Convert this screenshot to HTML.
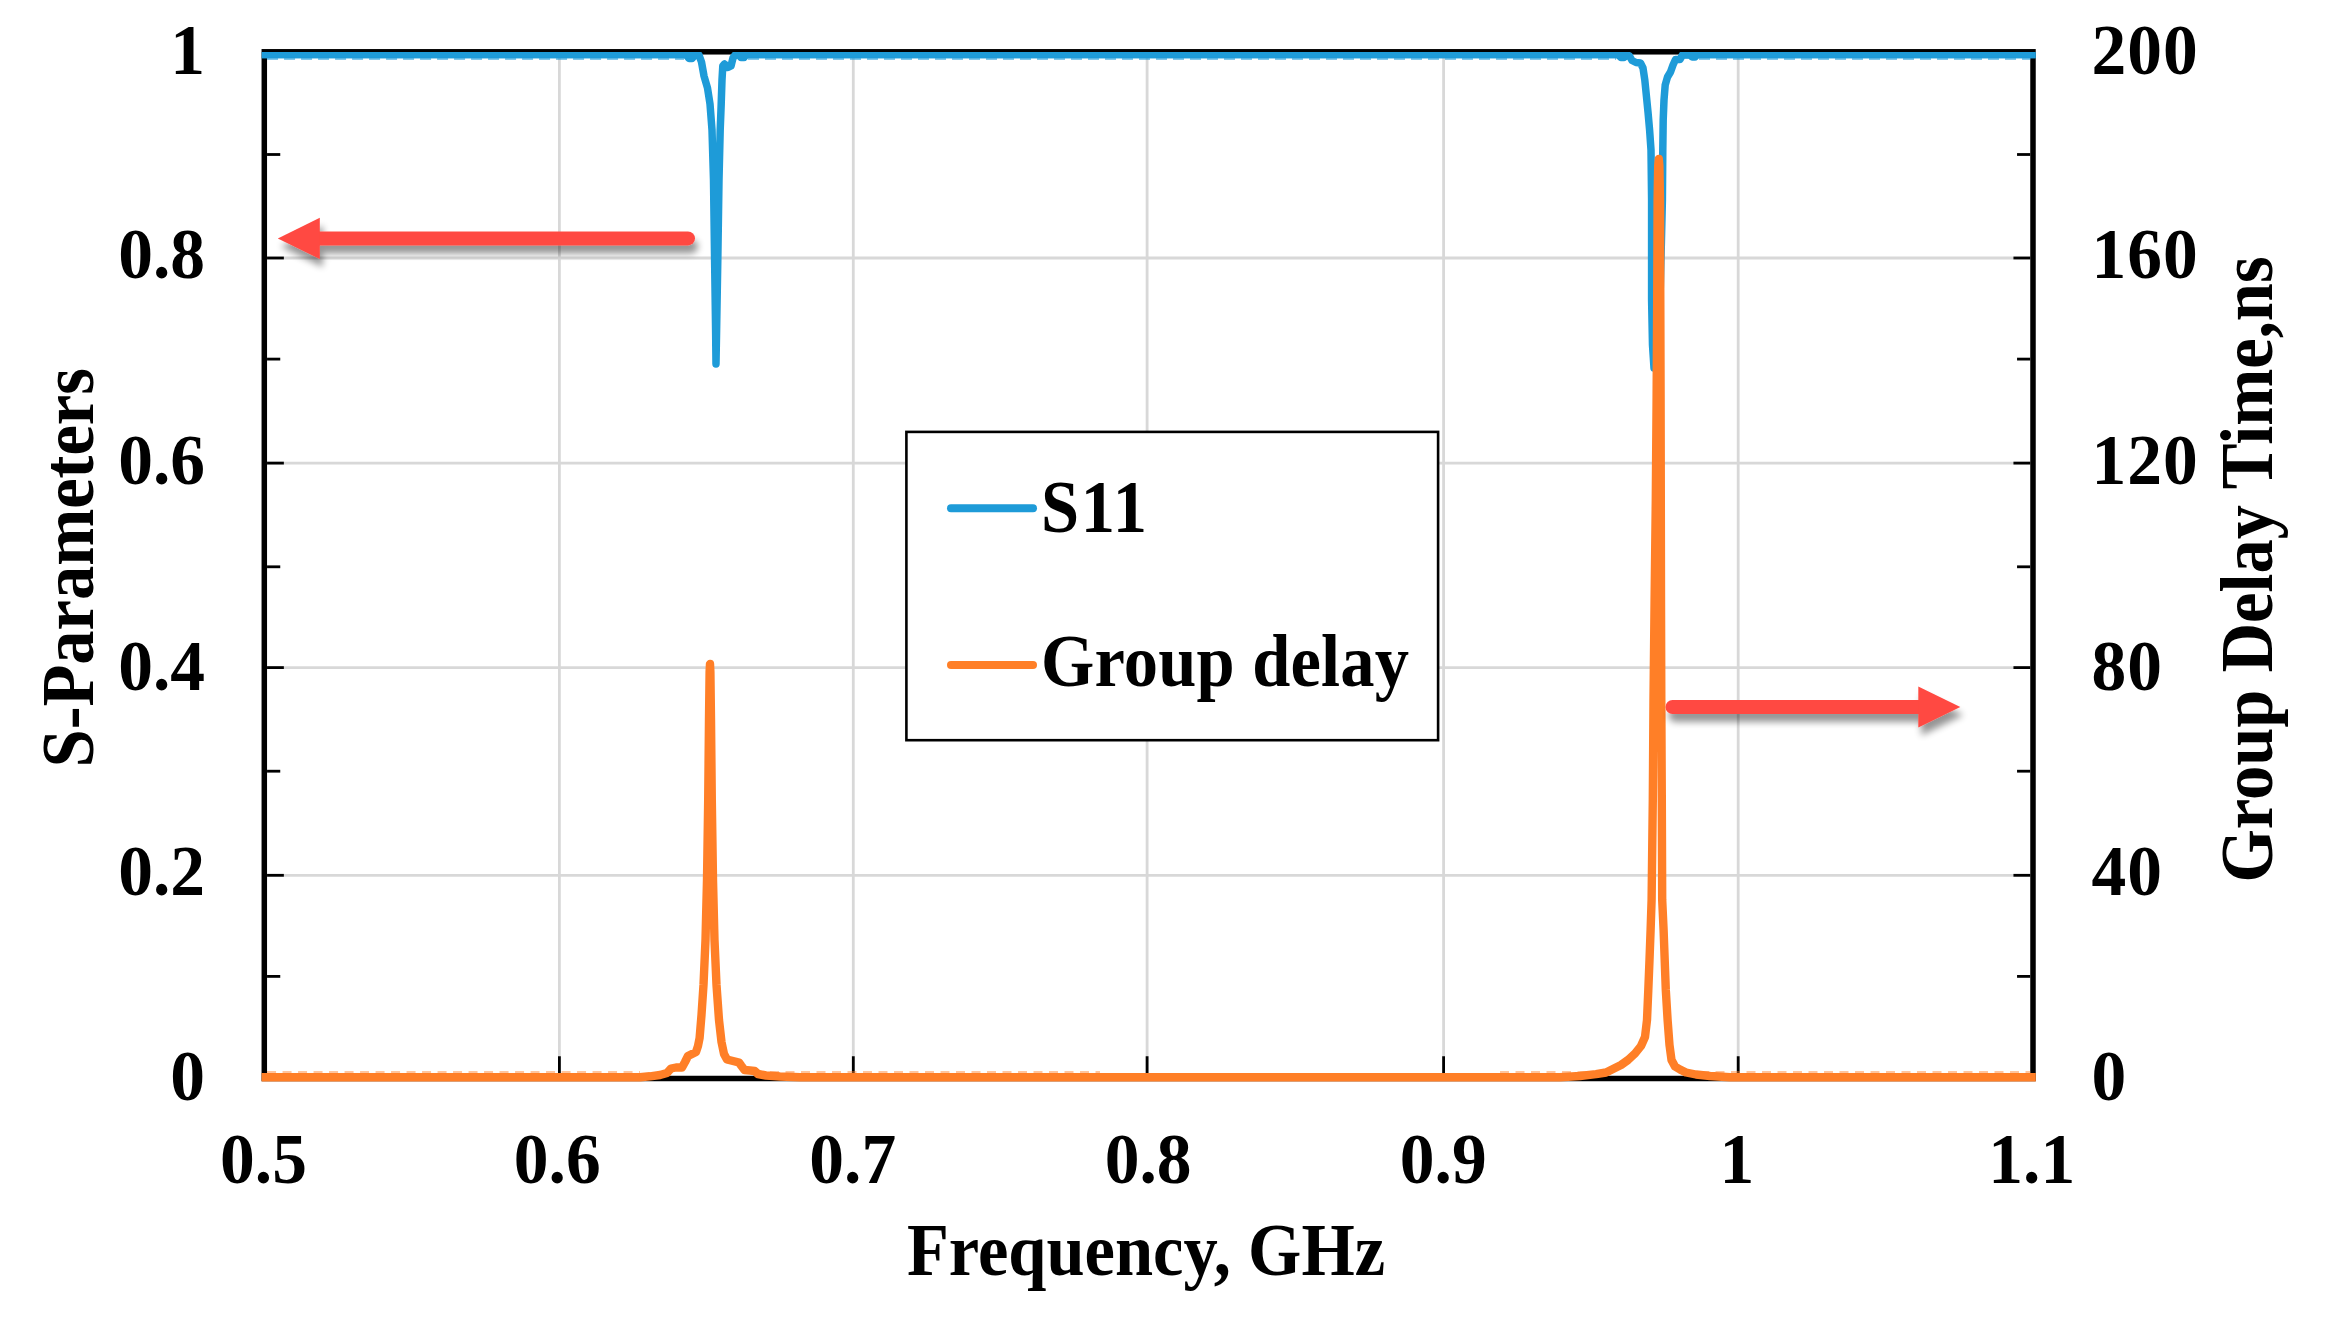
<!DOCTYPE html>
<html lang="en"><head><meta charset="utf-8"><title>S11 and group delay</title>
<style>
html,body{margin:0;padding:0;background:#fff;}
body{width:2325px;height:1325px;overflow:hidden;}
svg{display:block;filter:blur(0.55px);}
text{font-family:"Liberation Serif","Times New Roman",serif;font-weight:bold;fill:#000;}
.t{font-size:69.5px;}
.l{font-size:68.5px;}
</style></head><body>
<svg width="2325" height="1325" viewBox="0 0 2325 1325">
<defs>
<filter id="sh" x="-10%" y="-80%" width="120%" height="300%">
<feGaussianBlur in="SourceAlpha" stdDeviation="3.6"/>
<feOffset dx="3" dy="8" result="o"/>
<feComponentTransfer><feFuncA type="linear" slope="0.42"/></feComponentTransfer>
<feMerge><feMergeNode/><feMergeNode in="SourceGraphic"/></feMerge>
</filter>
<clipPath id="cb"><rect x="261.55" y="52" width="1774.2" height="1100"/></clipPath>
</defs>
<rect width="2325" height="1325" fill="#fff"/>

<g stroke="#d8d8d8" stroke-width="2.8" fill="none">
<line x1="559.4" y1="51.8" x2="559.4" y2="1078.5"/>
<line x1="853.3" y1="51.8" x2="853.3" y2="1078.5"/>
<line x1="1147.1" y1="51.8" x2="1147.1" y2="1078.5"/>
<line x1="1443.6" y1="51.8" x2="1443.6" y2="1078.5"/>
<line x1="1738.2" y1="51.8" x2="1738.2" y2="1078.5"/>
<line x1="264.3" y1="875.3" x2="2033.0" y2="875.3"/>
<line x1="264.3" y1="667.6" x2="2033.0" y2="667.6"/>
<line x1="264.3" y1="463.1" x2="2033.0" y2="463.1"/>
<line x1="264.3" y1="258.0" x2="2033.0" y2="258.0"/>
</g>
<rect x="264.3" y="51.8" width="1768.7" height="1026.7" fill="none" stroke="#000" stroke-width="5.5"/>
<g stroke="#000" stroke-width="2.8">
<line x1="267.05" y1="1078.5" x2="283.85" y2="1078.5"/>
<line x1="2030.25" y1="1078.5" x2="2013.45" y2="1078.5"/>
<line x1="267.05" y1="976.4" x2="280.25" y2="976.4"/>
<line x1="2030.25" y1="976.4" x2="2017.05" y2="976.4"/>
<line x1="267.05" y1="875.3" x2="283.85" y2="875.3"/>
<line x1="2030.25" y1="875.3" x2="2013.45" y2="875.3"/>
<line x1="267.05" y1="771.2" x2="280.25" y2="771.2"/>
<line x1="2030.25" y1="771.2" x2="2017.05" y2="771.2"/>
<line x1="267.05" y1="667.6" x2="283.85" y2="667.6"/>
<line x1="2030.25" y1="667.6" x2="2013.45" y2="667.6"/>
<line x1="267.05" y1="566.8" x2="280.25" y2="566.8"/>
<line x1="2030.25" y1="566.8" x2="2017.05" y2="566.8"/>
<line x1="267.05" y1="463.1" x2="283.85" y2="463.1"/>
<line x1="2030.25" y1="463.1" x2="2013.45" y2="463.1"/>
<line x1="267.05" y1="359.1" x2="280.25" y2="359.1"/>
<line x1="2030.25" y1="359.1" x2="2017.05" y2="359.1"/>
<line x1="267.05" y1="258.0" x2="283.85" y2="258.0"/>
<line x1="2030.25" y1="258.0" x2="2013.45" y2="258.0"/>
<line x1="267.05" y1="154.5" x2="280.25" y2="154.5"/>
<line x1="2030.25" y1="154.5" x2="2017.05" y2="154.5"/>
<line x1="267.05" y1="51.8" x2="283.85" y2="51.8"/>
<line x1="2030.25" y1="51.8" x2="2013.45" y2="51.8"/>
<line x1="264.3" y1="1075.75" x2="264.3" y2="1056.25"/>
<line x1="559.4" y1="1075.75" x2="559.4" y2="1056.25"/>
<line x1="853.3" y1="1075.75" x2="853.3" y2="1056.25"/>
<line x1="1147.1" y1="1075.75" x2="1147.1" y2="1056.25"/>
<line x1="1443.6" y1="1075.75" x2="1443.6" y2="1056.25"/>
<line x1="1738.2" y1="1075.75" x2="1738.2" y2="1056.25"/>
<line x1="2033.0" y1="1075.75" x2="2033.0" y2="1056.25"/>
</g>
<g clip-path="url(#cb)"><path d="M261.6 54.6 L686.0 54.6 L689.0 58.5 L692.0 58.5 L695.0 55.1 L699.0 55.1 L701.5 62.0 L704.0 76.0 L707.5 88.0 L710.0 104.0 L712.0 130.0 L713.5 180.0 L714.6 260.0 L715.6 330.0 L716.0 364.0 L716.6 330.0 L717.8 260.0 L719.0 180.0 L720.2 130.0 L721.2 104.0 L722.0 80.0 L722.8 66.0 L724.5 64.0 L728.0 67.5 L731.0 66.0 L733.0 58.0 L735.0 55.1 L739.0 55.1 L741.0 57.5 L744.0 57.5 L746.0 54.6 L1618.0 54.6 L1621.0 57.5 L1624.0 57.5 L1627.0 54.9 L1629.5 56.0 L1632.0 60.5 L1636.0 62.5 L1640.5 63.0 L1643.0 68.0 L1644.8 80.0 L1646.3 95.0 L1648.0 112.0 L1649.6 130.0 L1651.0 150.0 L1651.6 200.0 L1651.6 300.0 L1652.5 345.0 L1654.0 368.0 L1657.0 345.0 L1660.0 300.0 L1662.4 200.0 L1662.8 150.0 L1663.2 120.0 L1664.0 100.0 L1665.2 85.0 L1667.5 77.0 L1670.5 72.0 L1673.0 65.0 L1675.5 59.5 L1680.0 59.5 L1682.5 54.9 L1690.0 54.9 L1692.0 57.0 L1695.0 57.0 L1697.0 54.6 L2035.8 54.6" fill="none" stroke="#1e9bd8" stroke-width="7.5" stroke-linejoin="round" stroke-linecap="butt"/>
<path d="M261.55 54.6 H700 M734 54.6 H1628 M1681 54.6 H2035.75" fill="none" stroke="#1e9bd8" stroke-width="7.5"/>
<path d="M267.05 58.9 H684 M748 58.9 H1616 M1699 58.9 H2030.25" fill="none" stroke="#1e9bd8" stroke-opacity="0.55" stroke-width="2.4" stroke-dasharray="11 6"/></g>
<path d="M261.6 1077.3 L640.0 1077.3 L650.0 1076.3 L660.0 1075.0 L667.0 1073.0 L671.0 1068.5 L676.0 1067.5 L682.0 1067.5 L685.0 1062.0 L688.0 1056.0 L692.0 1054.0 L696.0 1052.0 L698.0 1046.0 L699.6 1038.0 L701.5 1015.0 L703.5 985.0 L705.5 940.0 L707.0 880.0 L708.2 800.0 L709.0 720.0 L709.6 672.0 L710.0 664.0 L710.4 672.0 L711.0 720.0 L711.8 800.0 L713.0 880.0 L714.5 940.0 L716.5 985.0 L719.0 1020.0 L721.5 1042.0 L724.0 1054.0 L727.0 1059.5 L733.0 1061.0 L739.0 1062.5 L741.5 1066.0 L744.5 1070.0 L750.0 1070.5 L754.6 1071.0 L758.0 1074.0 L766.0 1075.5 L780.0 1076.5 L800.0 1077.3 L1560.0 1077.3 L1580.0 1076.0 L1596.0 1074.2 L1606.0 1072.5 L1613.0 1069.0 L1621.0 1065.0 L1628.0 1060.0 L1635.0 1053.5 L1641.0 1046.0 L1645.0 1037.0 L1647.0 1020.0 L1648.3 990.0 L1649.5 960.0 L1650.6 930.0 L1651.6 900.0 L1652.8 800.0 L1653.5 700.0 L1654.6 600.0 L1655.8 500.0 L1656.6 400.0 L1657.2 300.0 L1657.6 200.0 L1658.2 166.0 L1658.8 159.0 L1659.4 166.0 L1660.0 200.0 L1660.3 300.0 L1660.6 400.0 L1660.8 500.0 L1661.0 600.0 L1661.3 700.0 L1661.8 800.0 L1662.2 900.0 L1663.6 930.0 L1665.8 990.0 L1667.6 1020.0 L1669.5 1045.0 L1671.5 1060.0 L1675.0 1066.5 L1680.0 1069.5 L1686.0 1072.5 L1696.0 1074.5 L1710.0 1076.0 L1730.0 1077.3 L2035.8 1077.3" fill="none" stroke="#ff7f27" stroke-width="8.4" stroke-linejoin="round" stroke-linecap="butt"/>
<path d="M267.05 1072.2 H640 M770 1072.2 H1100 M1500 1072.2 H1590 M1700 1072.2 H2030.25" fill="none" stroke="#ff7f27" stroke-opacity="0.45" stroke-width="2.2" stroke-dasharray="9 6.5"/>
<g filter="url(#sh)"><line x1="688.0" y1="238.4" x2="315.8" y2="238.4" stroke="#ff4a42" stroke-width="14" stroke-linecap="round"/><polygon points="277.8,238.4 319.8,217.8 319.8,259.0" fill="#ff4a42"/></g>
<g filter="url(#sh)"><line x1="1672.5" y1="707" x2="1922.3" y2="707" stroke="#ff4a42" stroke-width="14" stroke-linecap="round"/><polygon points="1960.3,707 1918.3,686.4 1918.3,727.6" fill="#ff4a42"/></g>
<rect x="906.4" y="431.9" width="531.7" height="308.3" fill="#fff" stroke="#000" stroke-width="2.6"/>
<line x1="951" y1="508.3" x2="1033" y2="508.3" stroke="#1e9bd8" stroke-width="8" stroke-linecap="round"/>
<line x1="951" y1="665" x2="1033" y2="665" stroke="#ff7f27" stroke-width="8" stroke-linecap="round"/>
<text class="l" id="lg1" transform="translate(1041 532) scale(1 1.07)" letter-spacing="1.6">S11</text>
<text class="l" id="lg2" transform="translate(1041 686) scale(1 1.07)" letter-spacing="0.2">Group delay</text>
<text class="t" id="yl0" transform="translate(205.0 1100.2) scale(1 1.026)" text-anchor="end">0</text>
<text class="t" id="yl1" transform="translate(205.0 895.3) scale(1 1.026)" text-anchor="end">0.2</text>
<text class="t" id="yl2" transform="translate(205.0 690.3) scale(1 1.026)" text-anchor="end">0.4</text>
<text class="t" id="yl3" transform="translate(205.0 483.5) scale(1 1.026)" text-anchor="end">0.6</text>
<text class="t" id="yl4" transform="translate(205.0 278.3) scale(1 1.026)" text-anchor="end">0.8</text>
<text class="t" id="yl5" transform="translate(205.0 74.3) scale(1 1.026)" text-anchor="end">1</text>
<text class="t" id="yr0" transform="translate(2091.5 1100.2) scale(1 1.026)" letter-spacing="1">0</text>
<text class="t" id="yr1" transform="translate(2091.5 895.3) scale(1 1.026)" letter-spacing="1">40</text>
<text class="t" id="yr2" transform="translate(2091.5 690.3) scale(1 1.026)" letter-spacing="1">80</text>
<text class="t" id="yr3" transform="translate(2091.5 483.5) scale(1 1.026)" letter-spacing="1">120</text>
<text class="t" id="yr4" transform="translate(2091.5 278.3) scale(1 1.026)" letter-spacing="1">160</text>
<text class="t" id="yr5" transform="translate(2091.5 74.3) scale(1 1.026)" letter-spacing="1">200</text>
<text class="t" id="xl0" transform="translate(263.5 1182.8) scale(1 1.046)" text-anchor="middle">0.5</text>
<text class="t" id="xl1" transform="translate(557.2 1182.8) scale(1 1.046)" text-anchor="middle">0.6</text>
<text class="t" id="xl2" transform="translate(852.7 1182.8) scale(1 1.046)" text-anchor="middle">0.7</text>
<text class="t" id="xl3" transform="translate(1148.1 1182.8) scale(1 1.046)" text-anchor="middle">0.8</text>
<text class="t" id="xl4" transform="translate(1443.2 1182.8) scale(1 1.046)" text-anchor="middle">0.9</text>
<text class="t" id="xl5" transform="translate(1736.9 1182.8) scale(1 1.046)" text-anchor="middle">1</text>
<text class="t" id="xl6" transform="translate(2031.8 1182.8) scale(1 1.046)" text-anchor="middle">1.1</text>
<text class="l" id="xt" transform="translate(1146.0 1274.8) scale(1 1.07)" text-anchor="middle">Frequency, GHz</text>
<text class="l" id="ylt" transform="translate(93.3 567.8) rotate(-90) scale(1 1.07)" text-anchor="middle">S-Parameters</text>
<text class="l" id="yrt" transform="translate(2272.4 569.4) rotate(-90) scale(1 1.07)" text-anchor="middle">Group Delay Time,ns</text>
</svg></body></html>
